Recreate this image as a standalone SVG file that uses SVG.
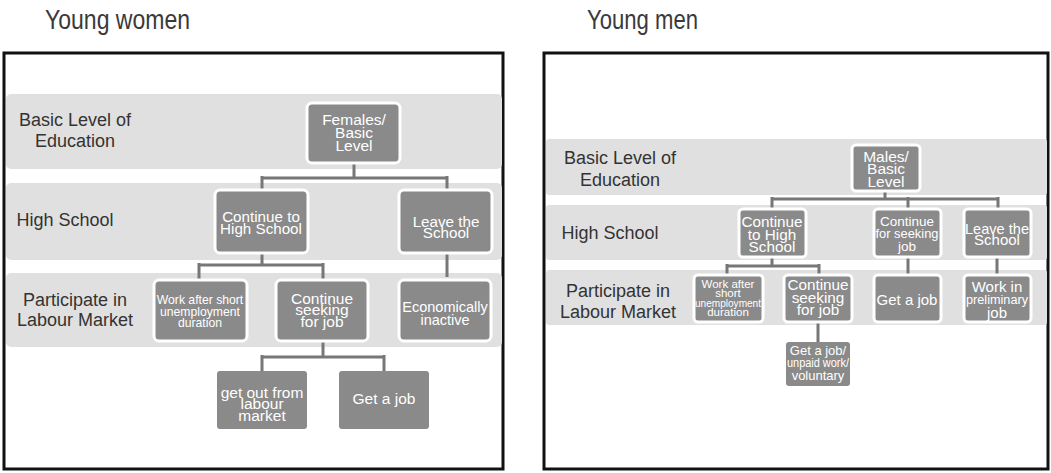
<svg xmlns="http://www.w3.org/2000/svg" width="1051" height="473" viewBox="0 0 1051 473">
<style>
.title{font-family:"Liberation Sans Narrow","Liberation Sans",Arial,sans-serif;font-size:27px;fill:#3a3a3a}
.frame{fill:#fff;stroke:#111;stroke-width:3}
.band{fill:#e0e0e0}
.lbl{font-family:"Liberation Sans",Arial,sans-serif;font-size:18px;fill:#333;text-anchor:middle}
.nb{fill:#8a8a8a;stroke:#fff;stroke-width:3}
.nn{fill:#8a8a8a}
.t{font-family:"Liberation Sans",Arial,sans-serif;fill:#fff;text-anchor:middle}
.conn path{fill:none;stroke:#777;stroke-width:3}
</style>
<text class="title" x="45" y="29" textLength="145" lengthAdjust="spacingAndGlyphs">Young women</text>
<text class="title" x="587" y="29" textLength="111" lengthAdjust="spacingAndGlyphs">Young men</text>
<rect class="frame" x="4" y="53" width="499" height="416"/>
<rect class="frame" x="544" y="53" width="504" height="416"/>
<g id="bands-left">
<rect class="band" x="6" y="94" width="496" height="75" rx="5"/>
<rect class="band" x="6" y="183" width="496" height="77" rx="5"/>
<rect class="band" x="6" y="273" width="496" height="74" rx="5"/>
</g>
<g id="bands-right">
<rect class="band" x="546" y="139" width="501" height="56" rx="3"/>
<rect class="band" x="546" y="205" width="501" height="55" rx="3"/>
<rect class="band" x="546" y="270" width="501" height="55" rx="3"/>
</g>
<g id="labels-left">
<text class="lbl" x="75" y="126">Basic Level of</text>
<text class="lbl" x="75" y="147">Education</text>
<text class="lbl" x="65" y="226">High School</text>
<text class="lbl" x="75" y="306">Participate in</text>
<text class="lbl" x="75" y="326">Labour Market</text>
</g>
<g id="labels-right">
<text class="lbl" x="620" y="164">Basic Level of</text>
<text class="lbl" x="620" y="186">Education</text>
<text class="lbl" x="610" y="239">High School</text>
<text class="lbl" x="618" y="297">Participate in</text>
<text class="lbl" x="618" y="318">Labour Market</text>
</g>
<g class="conn" id="connectors">
<path d="M354 163V178M262 178H447M262 176V190M447 176V190"/>
<path d="M262 254V265M199 265H323M199 263V280M323 263V280"/>
<path d="M447 254V277"/>
<path d="M323 342V357M262 357H384M262 355V371M384 355V371"/>
<path d="M885 191V199M772 199H998M772 197V208M908 197V208M998 197V208"/>
<path d="M772 257V266M727 266H819M727 264V274M819 264V274"/>
<path d="M908 257V274M997 257V274"/>
<path d="M818 322V342"/>
</g>
<g id="n-females"><rect class="nb" x="307" y="103" width="93" height="60" rx="5"/>
<text class="t" font-size="15.5" x="354" y="125">Females/</text><text class="t" font-size="15.5" x="354" y="138">Basic</text><text class="t" font-size="15.5" x="354" y="151">Level</text></g>
<g id="n-f-hs"><rect class="nb" x="215" y="190" width="93" height="63" rx="5"/>
<text class="t" font-size="15.2" x="261" y="222">Continue to</text><text class="t" font-size="15.2" x="261" y="234">High School</text></g>
<g id="n-f-leave"><rect class="nb" x="399" y="190" width="93" height="63" rx="5"/>
<text class="t" font-size="15.2" x="446" y="227">Leave the</text><text class="t" font-size="15.2" x="446" y="238">School</text></g>
<g id="n-f-work"><rect class="nb" x="154" y="280" width="93" height="61" rx="5"/>
<text class="t" font-size="12.2" x="200" y="304">Work after short</text><text class="t" font-size="12.2" x="200" y="316">unemployment</text><text class="t" font-size="12.2" x="200" y="327">duration</text></g>
<g id="n-f-seek"><rect class="nb" x="276" y="280" width="92" height="61" rx="5"/>
<text class="t" font-size="15.5" x="322" y="304">Continue</text><text class="t" font-size="15.5" x="322" y="315">seeking</text><text class="t" font-size="15.5" x="322" y="327">for job</text></g>
<g id="n-f-inactive"><rect class="nb" x="399" y="280" width="92" height="61" rx="5"/>
<text class="t" font-size="14.5" x="445" y="312">Economically</text><text class="t" font-size="14.5" x="445" y="325">inactive</text></g>
<g id="n-f-out"><rect class="nn" x="217" y="371" width="90" height="58" rx="3"/>
<text class="t" font-size="15.5" x="262" y="398">get out from</text><text class="t" font-size="15.5" x="262" y="409">labour</text><text class="t" font-size="15.5" x="262" y="421">market</text></g>
<g id="n-f-job"><rect class="nn" x="339" y="371" width="90" height="58" rx="3"/>
<text class="t" font-size="15.5" x="384" y="404">Get a job</text></g>
<g id="n-males"><rect class="nb" x="852" y="145" width="68" height="46" rx="4"/>
<text class="t" font-size="15.5" x="886" y="162">Males/</text><text class="t" font-size="15.5" x="886" y="174">Basic</text><text class="t" font-size="15.5" x="886" y="187">Level</text></g>
<g id="n-m-hs"><rect class="nb" x="739" y="209" width="67" height="48" rx="4"/>
<text class="t" font-size="15.3" x="772" y="227">Continue</text><text class="t" font-size="15.3" x="772" y="240">to High</text><text class="t" font-size="15.3" x="772" y="252">School</text></g>
<g id="n-m-seek"><rect class="nb" x="874" y="209" width="67" height="48" rx="4"/>
<text class="t" font-size="13.5" x="907" y="226">Continue</text><text class="t" font-size="12.5" x="907" y="238" textLength="63" lengthAdjust="spacingAndGlyphs">for seeking</text><text class="t" font-size="13.5" x="907" y="251">job</text></g>
<g id="n-m-leave"><rect class="nb" x="964" y="209" width="67" height="48" rx="4"/>
<text class="t" font-size="15" x="997" y="234" textLength="64" lengthAdjust="spacingAndGlyphs">Leave the</text><text class="t" font-size="15" x="997" y="245">School</text></g>
<g id="n-m-work"><rect class="nb" x="694" y="275" width="69" height="47" rx="4"/>
<text class="t" font-size="11.5" x="728" y="288">Work after</text><text class="t" font-size="11.5" x="728" y="297">short</text><text class="t" font-size="11.5" x="728" y="307" textLength="66" lengthAdjust="spacingAndGlyphs">unemployment</text><text class="t" font-size="11.5" x="728" y="316">duration</text></g>
<g id="n-m-seek2"><rect class="nb" x="784" y="275" width="68" height="47" rx="4"/>
<text class="t" font-size="15.3" x="818" y="290">Continue</text><text class="t" font-size="15.3" x="818" y="303">seeking</text><text class="t" font-size="15.3" x="818" y="315">for job</text></g>
<g id="n-m-job"><rect class="nb" x="874" y="275" width="67" height="47" rx="4"/>
<text class="t" font-size="15" x="907" y="305">Get a job</text></g>
<g id="n-m-prelim"><rect class="nb" x="964" y="275" width="67" height="47" rx="4"/>
<text class="t" font-size="15" x="997" y="292">Work in</text><text class="t" font-size="12.5" x="997" y="304" textLength="62" lengthAdjust="spacingAndGlyphs">preliminary</text><text class="t" font-size="15" x="997" y="318">job</text></g>
<g id="n-m-unpaid"><rect class="nn" x="786" y="342" width="64" height="44" rx="3"/>
<text class="t" font-size="13" x="818" y="355">Get a job/</text><text class="t" font-size="12.5" x="818" y="367" textLength="62" lengthAdjust="spacingAndGlyphs">unpaid work/</text><text class="t" font-size="13" x="818" y="380">voluntary</text></g>
</svg>
